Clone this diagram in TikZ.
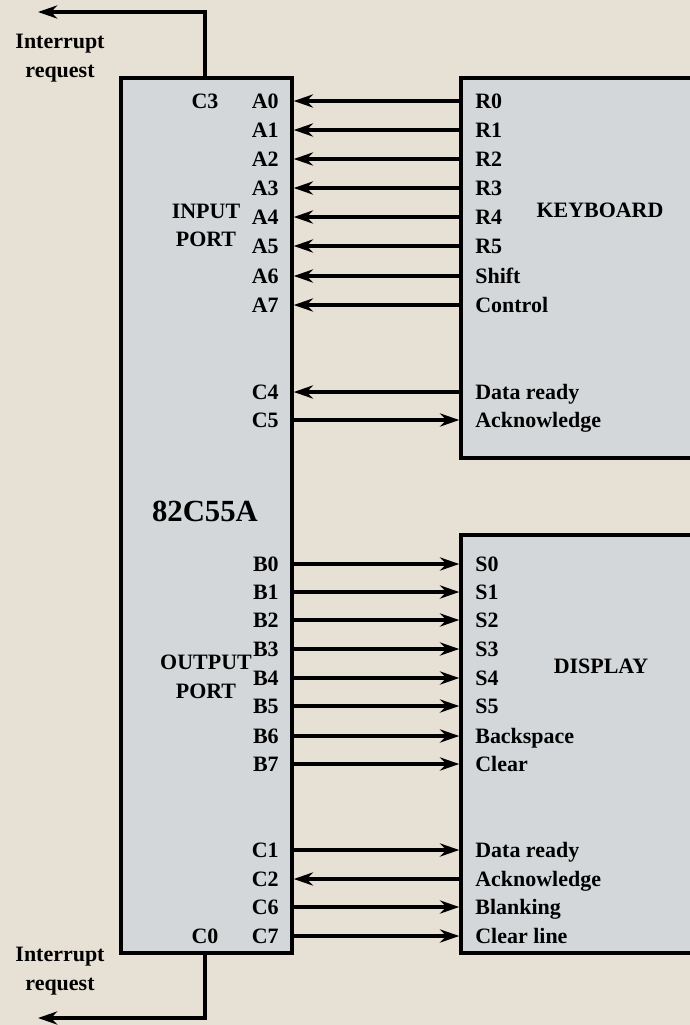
\documentclass[tikz,border=0pt]{standalone}
\usepackage{fontspec}
\setmainfont{Liberation Serif}
\usetikzlibrary{arrows.meta, positioning}
\definecolor{paper}{HTML}{E7E0D4}
\definecolor{boxgray}{HTML}{D3D7D9}

\begin{document}
\begin{tikzpicture}[
    x=0.02cm, y=-0.02cm,
    block/.style={draw, line width=2pt, fill=boxgray, inner sep=0pt},
    txt/.style={font=\bfseries\fontsize{12.5}{16.4}\selectfont, align=center},
    pinlbl/.style={font=\bfseries\fontsize{12.5}{15}\selectfont, inner sep=0pt, text height=8.2pt, text depth=0pt},
    tobox/.style={-{Stealth[length=11pt, width=7.5pt]}, line width=2pt},
    tochip/.style={{Stealth[length=11pt, width=7.5pt]}-, line width=2pt}
]
    % Background
    \fill[paper] (0,0) rectangle (690,1025);
    \useasboundingbox (0,0) rectangle (690,1025);
    \clip (0,0) rectangle (690,1025);

    % Chip and peripherals
    \node[block, minimum width=3.42cm, minimum height=17.5cm] (chip) at (206.5,515.5) {};
    \node[block, minimum width=5.4cm, minimum height=7.6cm] (keyboard) at (596,268) {};
    \node[block, minimum width=5.4cm, minimum height=8.36cm] (display) at (596,744) {};

    \node[txt] (kbdname) at (600,210) {KEYBOARD};
    \node[txt] (dispname) at (601,666) {DISPLAY};
    \node[font=\bfseries\fontsize{17.5}{20}\selectfont, inner sep=0pt, text height=12pt, text depth=0pt] (chipname) at (205,511) {82C55A};
    \node[txt] (inport) at (206,225.5) {INPUT\\PORT};
    \node[txt] (outport) at (206,676.5) {OUTPUT\\PORT};

    % Port lines
    \foreach \p/\y/\s/\b/\d in {A0/101/R0/keyboard/tochip, A1/130/R1/keyboard/tochip,
        A2/159/R2/keyboard/tochip, A3/188/R3/keyboard/tochip, A4/217/R4/keyboard/tochip,
        A5/246/R5/keyboard/tochip, A6/276/Shift/keyboard/tochip, A7/305/Control/keyboard/tochip,
        C4/392/Data ready/keyboard/tochip, C5/420/Acknowledge/keyboard/tobox,
        B0/564/S0/display/tobox, B1/592/S1/display/tobox, B2/620/S2/display/tobox,
        B3/649/S3/display/tobox, B4/678/S4/display/tobox, B5/706/S5/display/tobox,
        B6/736/Backspace/display/tobox, B7/764/Clear/display/tobox,
        C1/850/Data ready/display/tobox, C2/879/Acknowledge/display/tochip,
        C6/907/Blanking/display/tobox, C7/936/Clear line/display/tobox}{
        \node[pinlbl, anchor=east] (p\p) at (279,\y) {\p};
        \node[pinlbl, anchor=west] (s\p) at (475,\y) {\s};
        \draw[\d] (chip.east |- p\p) -- (\b.west |- s\p);
    }

    % Interrupt requests
    \node[pinlbl] (c3) at (205,101) {C3};
    \node[pinlbl] (c0) at (205,936) {C0};
    \coordinate (irqin) at (38,12);
    \coordinate (irqout) at (38,1018);
    \node[txt] (irqintxt) at (60,58) {Interrupt\\request};
    \node[txt] (irqouttxt) at (60,971) {Interrupt\\request};
    \draw[tobox] (c3 |- chip.north) |- (irqin);
    \draw[tobox] (c0 |- chip.south) |- (irqout);

\end{tikzpicture}
\end{document}
